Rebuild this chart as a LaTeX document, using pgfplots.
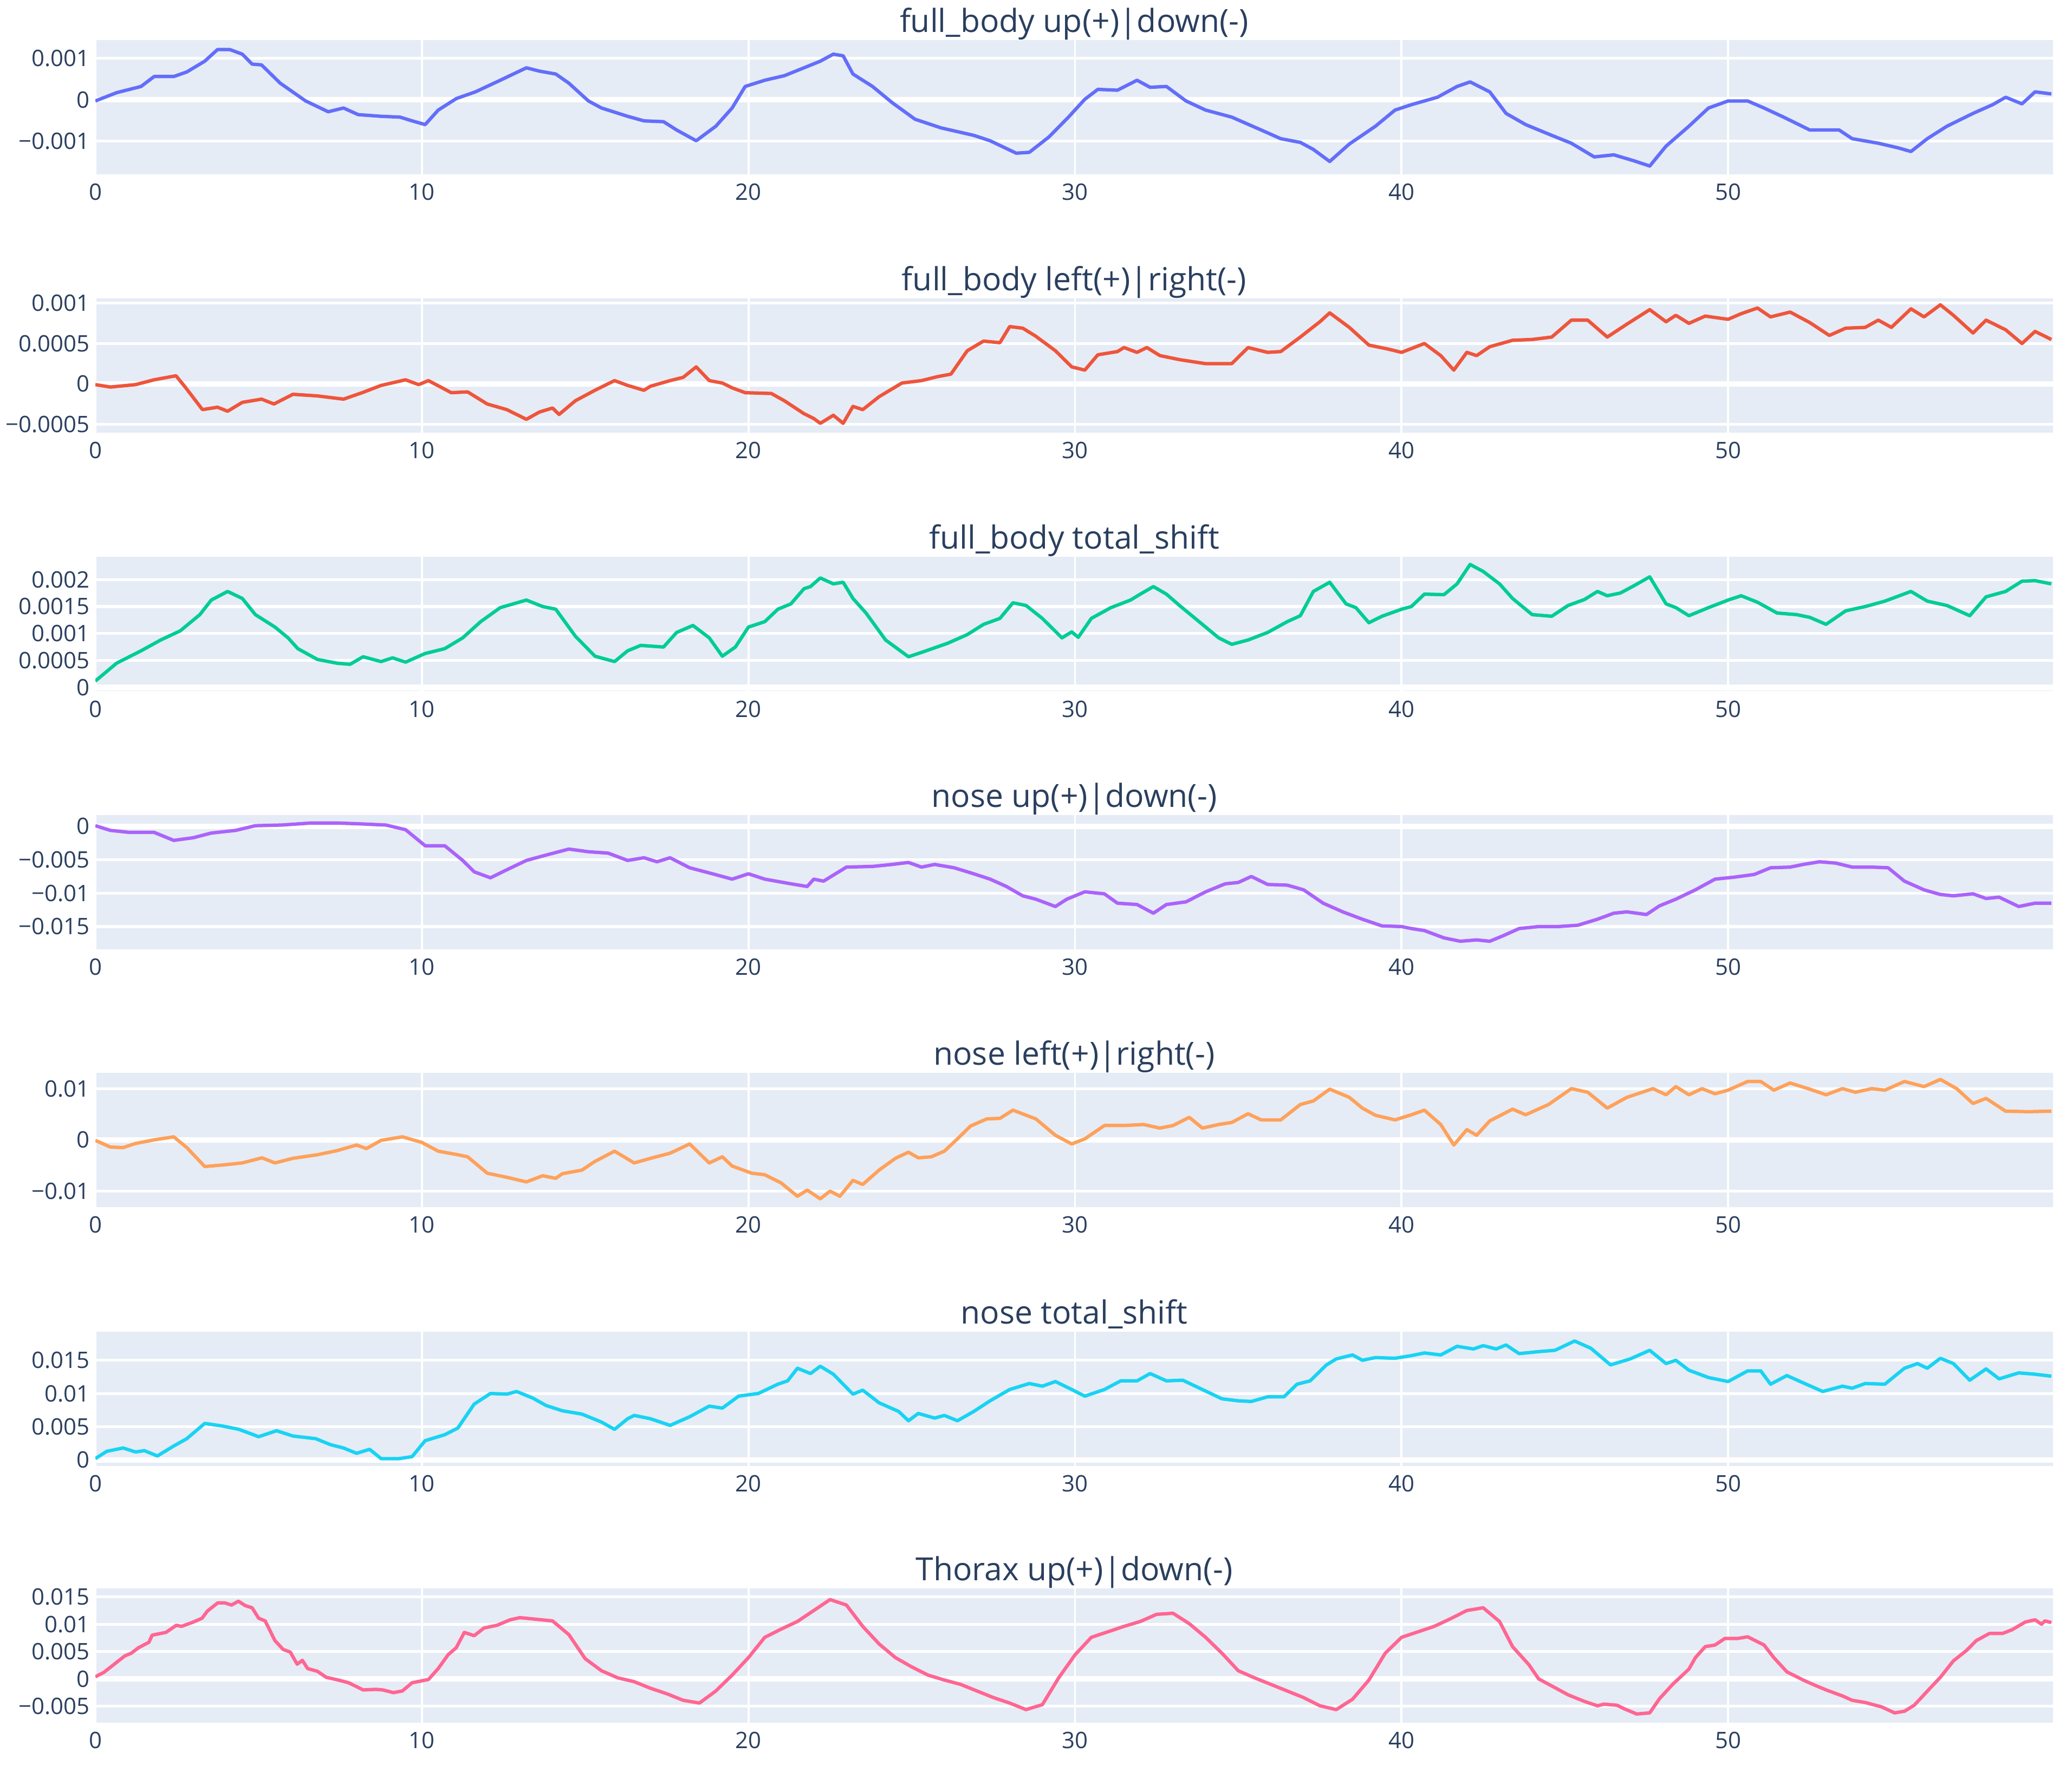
\documentclass[border=0pt]{standalone}
\usepackage{fontspec}
\setmainfont{Open Sans}
\usepackage{pgfplots}
\pgfplotsset{compat=1.18}

\definecolor{bgc}{HTML}{E5ECF6}
\definecolor{txt}{HTML}{2A3F5F}
\definecolor{c1}{HTML}{636EFA}
\definecolor{c2}{HTML}{EF553B}
\definecolor{c3}{HTML}{00CC96}
\definecolor{c4}{HTML}{AB63FA}
\definecolor{c5}{HTML}{FFA15A}
\definecolor{c6}{HTML}{19D3F3}
\definecolor{c7}{HTML}{FF6692}

\pgfplotsset{
  panel/.style={
    anchor=north west,
    scale only axis, width=491.3pt, height=33.7pt,
    xmin=0, xmax=59.95,
    axis background/.style={fill=bgc},
    axis line style={draw=none},
    major tick length=0pt,
    xtick={0,10,...,50}, xticklabels={0,10,20,30,40,50},
    grid=major,
    major grid style={white, line width=0.7pt},
    x grid style={white, line width=0.5pt},
    tick label style={font=\fontsize{5.7}{6}\selectfont, text=txt},
    xticklabel style={anchor=north, inner sep=0pt, yshift=-2.2pt},
    yticklabel style={anchor=east, inner sep=0pt, xshift=-1.2pt},
    scaled y ticks=false,
    extra y ticks={0}, extra y tick labels={0},
    extra y tick style={grid=major, major grid style={white, line width=1.4pt}},
    every axis title shift=0pt,
    title style={at={(0.5,1)}, anchor=base, yshift=2pt,
      font=\fontsize{8}{9}\selectfont, text=txt},
    every axis plot/.append style={line width=0.85pt, line join=round},
  }
}

\begin{document}
\begin{tikzpicture}
\path[use as bounding box] (0,0) rectangle (520pt,-443.3pt);

% full_body up/down
\begin{axis}[panel, at={(23.93pt,-10.06pt)},
  title={full\_body up(+)|down(-)},
  ymin=-0.0018, ymax=0.00144,
  ytick={-0.001,0.001}, yticklabels={−0.001,0.001}]
\addplot[c1] coordinates {
(0,-0.00003) (0.65,0.00017) (1.4,0.00032) (1.8,0.00056) (2.4,0.00056) (2.8,0.00067)
(3.35,0.00093) (3.74,0.00121) (4.12,0.00121) (4.5,0.0011) (4.8,0.00086) (5.09,0.00084)
(5.66,0.0004) (6.44,-0.00003) (7.13,-0.00029) (7.6,-0.0002) (8.05,-0.00036) (8.75,-0.0004)
(9.33,-0.00042) (9.7,-0.00051) (10.1,-0.0006) (10.5,-0.00025) (11.06,0.00003) (11.64,0.00019)
(12.4,0.00047) (13.2,0.00077) (13.6,0.00069) (14.1,0.00062) (14.5,0.0004) (15.1,-0.00003)
(15.5,-0.0002) (16.3,-0.0004) (16.8,-0.00051) (17.4,-0.00053) (17.8,-0.00073) (18.4,-0.00099)
(19.0,-0.00064) (19.5,-0.0002) (19.9,0.00032) (20.5,0.00047) (21.1,0.00058) (21.7,0.00077)
(22.2,0.00093) (22.6,0.0011) (22.9,0.00106) (23.2,0.00062) (23.8,0.00032) (24.4,-0.00007)
(25.1,-0.00047) (25.9,-0.00068) (26.9,-0.00086) (27.4,-0.00099) (28.2,-0.00129) (28.6,-0.00127)
(29.2,-0.0009) (29.8,-0.00042) (30.3,0.00001) (30.7,0.00025) (31.3,0.00023) (31.9,0.00047)
(32.3,0.0003) (32.8,0.00032) (33.4,-0.00003) (34.0,-0.00025) (34.8,-0.00042) (35.7,-0.00073)
(36.3,-0.00094) (36.9,-0.00103) (37.3,-0.0012) (37.8,-0.00149) (38.4,-0.00107) (39.2,-0.00064)
(39.8,-0.00025) (40.3,-0.00012) (40.7,-0.00003) (41.1,0.00006) (41.7,0.00032) (42.1,0.00043)
(42.7,0.00019) (43.2,-0.00033) (43.8,-0.0006) (44.6,-0.00086) (45.2,-0.00105) (45.9,-0.00138)
(46.5,-0.00133) (47.1,-0.00147) (47.6,-0.0016) (48.1,-0.00112) (48.8,-0.00064) (49.4,-0.0002)
(50.0,-0.00003) (50.6,-0.00003) (51.1,-0.0002) (51.7,-0.00042) (52.5,-0.00073) (53.4,-0.00073)
(53.8,-0.00094) (54.6,-0.00105) (55.2,-0.00116) (55.6,-0.00125) (56.1,-0.00094) (56.7,-0.00064)
(57.5,-0.00033) (58.1,-0.00012) (58.5,0.00006) (59.0,-0.0001) (59.4,0.00019) (59.9,0.00014)
};
\end{axis}

% full_body left/right
\begin{axis}[panel, at={(23.93pt,-74.9pt)},
  title={full\_body left(+)|right(-)},
  ymin=-0.000605, ymax=0.00106,
  ytick={-0.0005,0.0005,0.001}, yticklabels={−0.0005,0.0005,0.001}]
\addplot[c2] coordinates {
(0,-0.00001) (0.46,-0.00004) (1.23,-0.00001) (1.8,0.00005) (2.47,0.0001) (2.77,-0.00005)
(3.28,-0.00032) (3.74,-0.00029) (4.05,-0.00034) (4.5,-0.00023) (5.09,-0.00019) (5.47,-0.00025)
(6.05,-0.00013) (6.8,-0.00015) (7.6,-0.00019) (8.17,-0.00011) (8.75,-0.00002) (9.5,0.00005)
(9.9,-0.00001) (10.2,0.00004) (10.9,-0.00011) (11.4,-0.0001) (12.0,-0.00025) (12.6,-0.00032)
(13.2,-0.00044) (13.6,-0.00035) (14.0,-0.0003) (14.2,-0.00038) (14.7,-0.00021) (15.3,-0.00008)
(15.9,0.00004) (16.3,-0.00002) (16.8,-0.00008) (17.0,-0.00003) (17.6,0.00004) (18.0,0.00008)
(18.4,0.00021) (18.8,0.00004) (19.2,0.00001) (19.5,-0.00005) (19.9,-0.00011) (20.7,-0.00012)
(21.1,-0.00021) (21.7,-0.00037) (22.0,-0.00043) (22.2,-0.00049) (22.6,-0.00039) (22.9,-0.00049)
(23.2,-0.00028) (23.5,-0.00032) (24.0,-0.00016) (24.7,0.00001) (25.3,0.00004) (25.8,0.00009)
(26.2,0.00012) (26.7,0.00041) (27.2,0.00053) (27.7,0.00051) (28.0,0.00071) (28.4,0.00069)
(28.8,0.00059) (29.4,0.00041) (29.9,0.00021) (30.3,0.00017) (30.7,0.00036) (31.3,0.0004)
(31.5,0.00045) (31.9,0.00039) (32.2,0.00045) (32.6,0.00035) (33.2,0.0003) (34.0,0.00025)
(34.8,0.00025) (35.3,0.00045) (35.9,0.00039) (36.3,0.0004) (36.9,0.00058) (37.5,0.00077)
(37.8,0.00088) (38.4,0.0007) (39.0,0.00048) (39.6,0.00043) (40.0,0.00039) (40.7,0.0005)
(41.2,0.00035) (41.6,0.00017) (42.0,0.00039) (42.3,0.00035) (42.7,0.00046) (43.4,0.00054)
(44.0,0.00055) (44.6,0.00058) (45.2,0.00079) (45.7,0.00079) (46.3,0.00058) (46.9,0.00074)
(47.6,0.00092) (48.1,0.00077) (48.4,0.00085) (48.8,0.00075) (49.3,0.00084) (50.0,0.0008)
(50.4,0.00087) (50.9,0.00094) (51.3,0.00083) (51.9,0.00089) (52.5,0.00076) (53.1,0.0006)
(53.6,0.00069) (54.2,0.0007) (54.6,0.00079) (55.0,0.0007) (55.6,0.00093) (56.0,0.00083)
(56.5,0.00098) (56.9,0.00085) (57.5,0.00063) (57.9,0.00079) (58.5,0.00067) (59.0,0.0005)
(59.4,0.00065) (59.9,0.00055)
};
\end{axis}

% full_body total_shift
\begin{axis}[panel, at={(23.93pt,-139.8pt)},
  title={full\_body total\_shift},
  ymin=-0.000067, ymax=0.00242,
  ytick={0.0005,0.001,0.0015,0.002}, yticklabels={0.0005,0.001,0.0015,0.002}]
\addplot[c3] coordinates {
(0,0.00012) (0.65,0.00045) (1.4,0.00068) (2.0,0.00088) (2.6,0.00105) (3.2,0.00135)
(3.55,0.00162) (4.05,0.00178) (4.5,0.00165) (4.9,0.00135) (5.5,0.00112) (5.9,0.00092)
(6.2,0.00072) (6.8,0.00052) (7.4,0.00045) (7.8,0.00043) (8.2,0.00057) (8.75,0.00048)
(9.1,0.00055) (9.5,0.00047) (10.1,0.00063) (10.7,0.00072) (11.25,0.00092) (11.8,0.00122)
(12.4,0.00148) (13.2,0.00162) (13.7,0.0015) (14.1,0.00145) (14.7,0.00095) (15.3,0.00058)
(15.9,0.00048) (16.3,0.00068) (16.7,0.00078) (17.4,0.00075) (17.8,0.00102) (18.3,0.00115)
(18.8,0.00092) (19.2,0.00058) (19.6,0.00075) (20.0,0.00112) (20.5,0.00122) (20.9,0.00145)
(21.3,0.00155) (21.7,0.00183) (21.9,0.00187) (22.2,0.00203) (22.6,0.00192) (22.9,0.00195)
(23.2,0.00165) (23.6,0.00138) (24.2,0.00088) (24.9,0.00057) (25.3,0.00065) (26.1,0.00082)
(26.7,0.00098) (27.2,0.00117) (27.7,0.00128) (28.1,0.00157) (28.5,0.00152) (29.0,0.00128)
(29.6,0.00092) (29.9,0.00103) (30.1,0.00093) (30.5,0.00128) (31.1,0.00148) (31.7,0.00162)
(32.0,0.00173) (32.4,0.00187) (32.8,0.00173) (33.2,0.00152) (33.8,0.00122) (34.4,0.00092)
(34.8,0.0008) (35.3,0.00088) (35.9,0.00102) (36.5,0.00122) (36.9,0.00133) (37.3,0.00178)
(37.8,0.00195) (38.3,0.00155) (38.6,0.00148) (39.0,0.0012) (39.4,0.00132) (40.0,0.00145)
(40.3,0.0015) (40.7,0.00173) (41.3,0.00172) (41.7,0.00192) (42.1,0.00228) (42.5,0.00215)
(43.0,0.00192) (43.4,0.00165) (44.0,0.00135) (44.6,0.00132) (45.1,0.00152) (45.6,0.00163)
(46.0,0.00178) (46.3,0.0017) (46.7,0.00175) (47.1,0.00188) (47.6,0.00205) (48.1,0.00155)
(48.4,0.00148) (48.8,0.00133) (49.4,0.00148) (50.0,0.00162) (50.4,0.0017) (50.9,0.00158)
(51.5,0.00138) (52.1,0.00135) (52.5,0.0013) (53.0,0.00117) (53.6,0.00142) (54.2,0.0015)
(54.8,0.0016) (55.6,0.00178) (56.1,0.0016) (56.7,0.00152) (57.4,0.00133) (57.9,0.00168)
(58.5,0.00178) (59.0,0.00197) (59.4,0.00198) (59.9,0.00192)
};
\end{axis}

% nose up/down
\begin{axis}[panel, at={(23.93pt,-204.6pt)},
  title={nose up(+)|down(-)},
  ymin=-0.0184, ymax=0.0017,
  ytick={-0.015,-0.01,-0.005}, yticklabels={−0.015,−0.01,−0.005}]
\addplot[c4] coordinates {
(0,0.0001) (0.46,-0.0006) (1.04,-0.0009) (1.8,-0.0009) (2.4,-0.0021) (3.0,-0.0017)
(3.55,-0.001) (4.3,-0.0006) (4.9,0.0001) (5.7,0.0002) (6.6,0.0005) (7.4,0.0005)
(8.0,0.0004) (8.9,0.0002) (9.5,-0.0005) (10.1,-0.0029) (10.7,-0.0029) (11.25,-0.0051)
(11.6,-0.0068) (12.1,-0.0077) (12.6,-0.0065) (13.2,-0.0051) (13.8,-0.0043) (14.5,-0.0034)
(15.1,-0.0038) (15.7,-0.004) (16.3,-0.0051) (16.8,-0.0047) (17.2,-0.0053) (17.6,-0.0047)
(18.2,-0.0062) (18.9,-0.0071) (19.5,-0.0079) (20.0,-0.0071) (20.5,-0.0079) (21.3,-0.0086)
(21.8,-0.009) (22.0,-0.0079) (22.3,-0.0082) (23.0,-0.0061) (23.8,-0.006) (24.4,-0.0057)
(24.9,-0.0054) (25.3,-0.0061) (25.7,-0.0057) (26.3,-0.0062) (26.9,-0.0071) (27.4,-0.0079)
(27.9,-0.009) (28.4,-0.0104) (28.8,-0.0109) (29.4,-0.012) (29.75,-0.0109) (30.3,-0.0098)
(30.9,-0.0101) (31.3,-0.0115) (31.9,-0.0117) (32.4,-0.013) (32.8,-0.0117) (33.4,-0.0113)
(34.0,-0.0098) (34.6,-0.0086) (35.0,-0.0084) (35.4,-0.0075) (35.9,-0.0087) (36.5,-0.0088)
(37.0,-0.0095) (37.6,-0.0115) (38.2,-0.0128) (38.8,-0.0139) (39.4,-0.0149) (40.0,-0.015)
(40.3,-0.0153) (40.7,-0.0156) (41.3,-0.0167) (41.8,-0.0172) (42.3,-0.017) (42.7,-0.0172)
(43.1,-0.0164) (43.6,-0.0153) (44.2,-0.015) (44.8,-0.015) (45.4,-0.0148) (46.0,-0.0139)
(46.5,-0.013) (46.9,-0.0128) (47.5,-0.0132) (47.9,-0.0119) (48.4,-0.0109) (49.0,-0.0095)
(49.6,-0.0079) (50.2,-0.0076) (50.8,-0.0072) (51.3,-0.0062) (51.9,-0.0061) (52.3,-0.0057)
(52.8,-0.0053) (53.3,-0.0055) (53.8,-0.0061) (54.4,-0.0061) (54.9,-0.0062) (55.4,-0.0082)
(56.0,-0.0095) (56.5,-0.0102) (56.9,-0.0104) (57.5,-0.0101) (57.9,-0.0108) (58.3,-0.0106)
(58.9,-0.012) (59.4,-0.0115) (59.9,-0.0115)
};
\end{axis}

% nose left/right
\begin{axis}[panel, at={(23.93pt,-269.3pt)},
  title={nose left(+)|right(-)},
  ymin=-0.0131, ymax=0.0131,
  ytick={-0.01,0.01}, yticklabels={−0.01,0.01}]
\addplot[c5] coordinates {
(0,-0.0001) (0.46,-0.0014) (0.85,-0.0015) (1.23,-0.0007) (1.8,0.0) (2.4,0.0006)
(2.8,-0.0015) (3.35,-0.0052) (3.9,-0.0049) (4.5,-0.0045) (5.1,-0.0035) (5.5,-0.0045)
(6.05,-0.0036) (6.8,-0.0029) (7.4,-0.0021) (8.0,-0.001) (8.3,-0.0017) (8.75,-0.0001)
(9.4,0.0006) (10.0,-0.0005) (10.5,-0.0022) (11.1,-0.0029) (11.4,-0.0033) (12.0,-0.0065)
(12.6,-0.0073) (13.2,-0.0082) (13.7,-0.007) (14.1,-0.0075) (14.3,-0.0066) (14.9,-0.0059)
(15.3,-0.0042) (15.9,-0.0022) (16.5,-0.0045) (17.0,-0.0036) (17.6,-0.0026) (18.2,-0.0008)
(18.8,-0.0045) (19.2,-0.0033) (19.5,-0.0051) (20.1,-0.0065) (20.5,-0.0068) (21.0,-0.0084)
(21.5,-0.011) (21.8,-0.0098) (22.2,-0.0115) (22.5,-0.01) (22.8,-0.011) (23.2,-0.0079)
(23.5,-0.0087) (24.0,-0.0059) (24.5,-0.0036) (24.9,-0.0024) (25.2,-0.0035) (25.6,-0.0033)
(26.0,-0.0022) (26.4,0.0002) (26.8,0.0027) (27.3,0.0041) (27.7,0.0042) (28.1,0.0058)
(28.8,0.0041) (29.4,0.0009) (29.9,-0.0008) (30.3,0.0002) (30.9,0.0028) (31.5,0.0028)
(32.1,0.003) (32.6,0.0023) (33.0,0.0028) (33.5,0.0044) (33.9,0.0023) (34.4,0.003)
(34.8,0.0034) (35.3,0.0051) (35.7,0.0039) (36.3,0.0039) (36.9,0.0069) (37.3,0.0076)
(37.8,0.0099) (38.4,0.0083) (38.8,0.0062) (39.2,0.0048) (39.8,0.0039) (40.3,0.0049)
(40.7,0.0058) (41.2,0.003) (41.6,-0.001) (42.0,0.002) (42.3,0.0009) (42.7,0.0037)
(43.4,0.006) (43.8,0.0049) (44.5,0.0069) (45.2,0.01) (45.7,0.0093) (46.3,0.0062)
(46.9,0.0083) (47.7,0.01) (48.1,0.0088) (48.4,0.0104) (48.8,0.0088) (49.2,0.01)
(49.6,0.009) (50.0,0.0097) (50.6,0.0114) (51.0,0.0114) (51.4,0.0097) (51.9,0.0111)
(52.5,0.0099) (53.0,0.0088) (53.5,0.01) (53.9,0.0093) (54.4,0.01) (54.8,0.0097)
(55.4,0.0114) (56.0,0.0104) (56.5,0.0118) (57.0,0.01) (57.5,0.0071) (57.9,0.0081)
(58.5,0.0056) (59.2,0.0055) (59.9,0.0056)
};
\end{axis}

% nose total_shift
\begin{axis}[panel, at={(23.93pt,-334.3pt)},
  title={nose total\_shift},
  ymin=-0.0009, ymax=0.0193,
  ytick={0.005,0.01,0.015}, yticklabels={0.005,0.01,0.015}]
\addplot[c6] coordinates {
(0,0.0002) (0.35,0.0013) (0.85,0.0018) (1.23,0.0012) (1.5,0.0014) (1.9,0.0006)
(2.4,0.0021) (2.8,0.0032) (3.35,0.0055) (3.9,0.0051) (4.4,0.0046) (5.0,0.0035)
(5.55,0.0044) (6.05,0.0036) (6.75,0.0032) (7.2,0.0023) (7.6,0.0018) (8.0,0.001)
(8.4,0.0016) (8.75,0.0002) (9.3,0.0002) (9.7,0.0005) (10.1,0.0029) (10.7,0.0038)
(11.1,0.0048) (11.6,0.0084) (12.1,0.01) (12.6,0.0099) (12.9,0.0103) (13.4,0.0093)
(13.8,0.0082) (14.3,0.0074) (14.9,0.0069) (15.5,0.0057) (15.9,0.0046) (16.3,0.0062)
(16.5,0.0067) (17.0,0.0062) (17.6,0.0052) (18.2,0.0065) (18.8,0.0081) (19.2,0.0078)
(19.7,0.0096) (20.3,0.01) (20.9,0.0114) (21.2,0.0119) (21.5,0.0138) (21.9,0.013)
(22.2,0.0141) (22.6,0.0129) (23.2,0.0099) (23.5,0.0105) (24.0,0.0086) (24.6,0.0073)
(24.9,0.0059) (25.2,0.007) (25.7,0.0063) (26.0,0.0067) (26.4,0.0059) (26.9,0.0073)
(27.4,0.0089) (28.0,0.0106) (28.6,0.0115) (29.0,0.0111) (29.4,0.0118) (29.9,0.0106)
(30.3,0.0096) (30.9,0.0106) (31.4,0.0119) (31.9,0.0119) (32.3,0.013) (32.8,0.0119)
(33.3,0.012) (33.9,0.0106) (34.5,0.0092) (35.0,0.0089) (35.4,0.0088) (35.9,0.0095)
(36.4,0.0095) (36.8,0.0114) (37.2,0.0119) (37.7,0.0143) (38.0,0.0152) (38.5,0.0158)
(38.8,0.015) (39.2,0.0154) (39.8,0.0153) (40.3,0.0157) (40.7,0.0161) (41.2,0.0158)
(41.7,0.0171) (42.2,0.0167) (42.5,0.0172) (42.9,0.0167) (43.2,0.0173) (43.6,0.016)
(44.2,0.0163) (44.7,0.0165) (45.3,0.0179) (45.8,0.0168) (46.4,0.0143) (47.0,0.0152)
(47.6,0.0165) (48.1,0.0145) (48.4,0.015) (48.8,0.0135) (49.4,0.0124) (50.0,0.0118)
(50.6,0.0134) (51.0,0.0134) (51.3,0.0114) (51.8,0.0127) (52.3,0.0116) (52.9,0.0103)
(53.5,0.0111) (53.8,0.0108) (54.2,0.0115) (54.8,0.0114) (55.4,0.0138) (55.8,0.0145)
(56.1,0.0138) (56.5,0.0153) (56.9,0.0145) (57.4,0.012) (57.9,0.0137) (58.3,0.0122)
(58.9,0.0131) (59.4,0.0129) (59.9,0.0126)
};
\end{axis}

% Thorax up/down
\begin{axis}[panel, at={(23.93pt,-398.7pt)},
  title={Thorax up(+)|down(-)},
  ymin=-0.00795, ymax=0.01657,
  ytick={-0.005,0.005,0.01,0.015}, yticklabels={−0.005,0.005,0.01,0.015}]
\addplot[c7] coordinates {
(0,0.0004) (0.26,0.0012) (0.58,0.0027) (0.9,0.0042) (1.1,0.0047) (1.32,0.0057)
(1.64,0.0067) (1.74,0.008) (2.16,0.0085) (2.48,0.0098) (2.64,0.0096) (3.0,0.0104)
(3.27,0.0111) (3.43,0.0124) (3.75,0.0139) (3.96,0.0139) (4.17,0.0135) (4.38,0.0142)
(4.59,0.0134) (4.8,0.013) (5.0,0.0111) (5.2,0.0106) (5.5,0.007) (5.75,0.0054)
(5.97,0.0049) (6.18,0.0027) (6.34,0.0034) (6.5,0.0019) (6.8,0.0014) (7.07,0.0003)
(7.44,-0.0002) (7.76,-0.0007) (8.2,-0.002) (8.6,-0.0019) (8.8,-0.002) (9.13,-0.0025)
(9.4,-0.0022) (9.7,-0.0007) (10.2,-0.0001) (10.5,0.0019) (10.8,0.0044) (11.05,0.0057)
(11.3,0.0085) (11.6,0.0079) (11.9,0.0093) (12.3,0.0098) (12.7,0.0108) (13.0,0.0112)
(13.5,0.0109) (14.0,0.0106) (14.5,0.0081) (15.0,0.0037) (15.5,0.0015) (16.0,0.0002)
(16.5,-0.0005) (17.0,-0.0017) (17.5,-0.0027) (18.0,-0.0039) (18.5,-0.0044) (19.0,-0.0022)
(19.5,0.0007) (20.0,0.0039) (20.5,0.0076) (21.0,0.0091) (21.5,0.0105) (22.0,0.0125)
(22.5,0.0145) (23.0,0.0135) (23.5,0.0096) (24.0,0.0064) (24.5,0.0039) (25.0,0.0022)
(25.5,0.0007) (26.0,-0.0002) (26.5,-0.001) (27.0,-0.0022) (27.5,-0.0034) (28.0,-0.0044)
(28.5,-0.0056) (29.0,-0.0047) (29.5,0.0002) (30.0,0.0044) (30.5,0.0076) (31.0,0.0086)
(31.5,0.0096) (32.0,0.0105) (32.5,0.0118) (33.0,0.012) (33.5,0.0101) (34.0,0.0076)
(34.5,0.0047) (35.0,0.0015) (35.5,0.0002) (36.0,-0.001) (36.5,-0.0022) (37.0,-0.0034)
(37.5,-0.0049) (38.0,-0.0056) (38.5,-0.0037) (39.0,-0.0002) (39.5,0.0047) (40.0,0.0076)
(40.5,0.0086) (41.0,0.0096) (41.5,0.011) (42.0,0.0125) (42.5,0.013) (43.0,0.0105)
(43.4,0.0059) (43.9,0.0026) (44.2,0.0) (44.7,-0.0016) (45.1,-0.0029) (45.6,-0.0041)
(46.0,-0.0049) (46.2,-0.0046) (46.6,-0.0048) (46.8,-0.0054) (47.2,-0.0064) (47.6,-0.0062)
(47.9,-0.0036) (48.3,-0.001) (48.8,0.0018) (49.0,0.0039) (49.3,0.0059) (49.6,0.0062)
(49.9,0.0074) (50.3,0.0074) (50.6,0.0077) (51.1,0.0062) (51.4,0.0039) (51.8,0.0013)
(52.3,-0.0002) (52.6,-0.001) (53.0,-0.002) (53.5,-0.0031) (53.8,-0.0039) (54.2,-0.0043)
(54.7,-0.0051) (55.1,-0.0062) (55.4,-0.0059) (55.7,-0.0048) (56.2,-0.0016) (56.5,0.0003)
(56.9,0.0033) (57.3,0.0052) (57.6,0.007) (58.0,0.0083) (58.4,0.0083) (58.7,0.009)
(59.1,0.0104) (59.4,0.0108) (59.6,0.01) (59.7,0.0106) (59.9,0.0103)
};
\end{axis}
\end{tikzpicture}
\end{document}
